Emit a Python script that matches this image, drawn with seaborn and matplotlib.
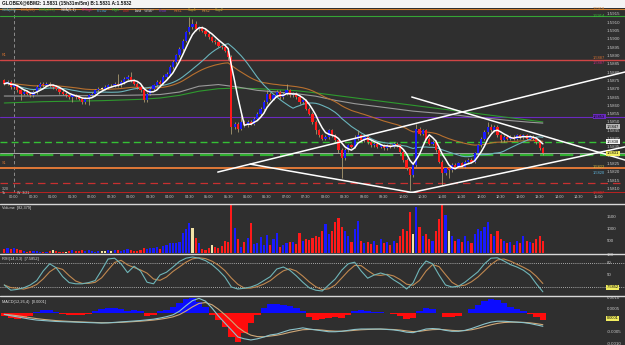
#!/usr/bin/env python3
"""6BM2 5-minute chart: candles + overlays, volume, stochastic and MACD panels."""

import matplotlib
matplotlib.use("Agg")
import matplotlib.pyplot as plt
import matplotlib.transforms as mtransforms
from matplotlib.lines import Line2D
from matplotlib.patches import Rectangle
import numpy as np
import pandas as pd
import seaborn as sns

# ---------------------------------------------------------------- data
HEADER = "GLOBEX@6BM2: 1.5831 (15h31m/5m) B:1.5831 A:1.5832"
LEGEND_NAMES = ["SMA(20)", "EMA(50)", "EMA(200)", "SMA(5,1)", "PrHigh", "PrLow", "High",
                "Low", "Last", "VWAP", "Pivot", "Res1", "Sup1", "Res2", "Sup2"]

# 5-minute bars, prices in pips above 1.5800, first bar at 23:45 (-15 min)
BAR_START_MIN = -15
BAR_MIN = 5
FIRST_OPEN = 75
CLOSE_PIPS = [
    73, 74, 71, 72, 69, 67, 68, 67, 66, 68, 71, 73, 72, 73, 72, 71, 70, 68, 67, 66,
    65, 66, 65, 64, 62, 64, 66, 67, 69, 70, 70, 71, 72, 72, 73, 72, 74, 76, 77, 75,
    73, 71, 69, 63, 67, 70,
    72, 74, 73, 77, 79, 83, 86, 90, 94, 99, 104, 107, 109, 106, 107, 105, 103, 101,
    99, 98, 96, 95, 93, 89,
    47, 49, 46, 50, 48, 50, 49, 52, 55, 58, 62, 67, 64, 66, 68, 65, 67, 69, 66, 67,
    65, 62, 63, 58, 55, 50, 45, 42, 40, 41, 45,
    42, 39, 33, 28, 33, 36, 35, 40, 42, 39, 41, 38, 36, 37, 35, 36, 34, 36, 35, 37,
    36, 32, 27, 22, 18, 24, 46, 43, 45, 40,
    37, 38, 33, 26, 19, 22, 21, 24, 23, 25, 23, 26, 27, 26, 31, 36, 40, 44, 47, 45,
    47, 42, 39, 41, 40, 41, 40, 42, 41, 42, 40, 41, 40, 38, 34, 31,
]
UP_WICK = [
    1, 1, 1, 1, 1, 1, 1, 1, 1, 1,  1, 1, 1, 1, 1, 1, 1, 1, 1, 1,
    1, 1, 1, 1, 1, 1, 1, 1, 1, 1,  1, 1, 1, 1, 1, 6, 1, 1, 1, 3,
    1, 1, 1, 1, 1, 1, 1, 1, 1, 1,  1, 1, 1, 1, 1, 1, 1, 6, 3, 2,
    1, 1, 1, 1, 1, 1, 1, 1, 1, 1,  1, 1, 1, 5, 1, 1, 1, 1, 1, 1,
    1, 2, 1, 1, 1, 1, 1, 4, 1, 1,  1, 1, 1, 1, 1, 1, 1, 1, 1, 1,
    1, 1, 1, 1, 1, 1, 1, 1, 2, 3,  1, 1, 1, 1, 1, 1, 1, 1, 1, 1,
    1, 1, 1, 1, 1, 1, 1, 3, 1, 1,  1, 1, 1, 1, 1, 1, 1, 1, 1, 1,
    1, 1, 1, 1, 1, 1, 1, 1, 1, 3,  2, 1, 1, 1, 1, 1, 1, 1, 1, 1,
    1, 1, 1, 1, 1, 1, 1,
]
DN_WICK = [
    1, 1, 1, 1, 1, 4, 1, 1, 1, 1,  1, 1, 1, 1, 1, 1, 1, 1, 1, 1,
    1, 3, 1, 1, 1, 1, 4, 1, 1, 1,  1, 1, 1, 1, 1, 1, 1, 1, 1, 1,
    1, 1, 1, 1, 1, 1, 1, 1, 1, 1,  1, 1, 1, 1, 1, 1, 1, 1, 1, 1,
    1, 1, 1, 1, 1, 1, 1, 1, 1, 2,  4, 1, 2, 1, 1, 1, 1, 1, 1, 1,
    1, 1, 1, 1, 1, 1, 1, 1, 1, 1,  1, 1, 1, 1, 1, 1, 2, 1, 1, 1,
    1, 1, 1, 2, 12, 1, 1, 1, 1, 1,  1, 1, 1, 1, 1, 1, 1, 1, 1, 1,
    1, 1, 1, 1, 1, 9, 1, 1, 1, 1,  1, 1, 1, 1, 1, 7, 1, 5, 1, 1,
    1, 1, 1, 1, 1, 1, 1, 1, 1, 1,  1, 1, 1, 1, 1, 1, 1, 1, 1, 1,
    1, 1, 1, 1, 1, 1, 1,
]
VOLUME = [
    180, 220, 160, 200, 150, 120, 90, 60, 80, 100, 70, 50, 40, 60, 90, 110, 70, 60, 50, 40,
    80, 120, 70, 100, 130, 90, 110, 80, 60, 100, 90, 70, 120, 100, 140, 110, 90, 130, 150, 120,
    100, 90, 140, 200, 160, 190,
    200, 250, 180, 300, 350, 420, 400, 430, 450, 830, 1000, 1250, 1040, 620, 420, 170, 130, 200,
    330, 250, 200, 300, 500, 460,
    2000, 1040, 580, 250, 450, 620, 1250, 380, 420, 660, 330, 750, 330, 580, 830, 250, 330, 420,
    460, 450, 380, 830, 500, 580, 540, 620, 700, 660, 900, 1200, 800,
    900, 1300, 1450, 1100, 900, 700, 450, 1000, 1350, 500, 400, 450, 380, 500, 350, 600, 400, 450,
    350, 500, 400, 700, 1000, 900, 1700, 800, 1900, 1100, 700, 800,
    600, 500, 900, 1400, 2000, 1600, 900, 700, 500, 600, 450, 700, 500, 400, 800, 1000, 900, 1100,
    1300, 800, 700, 900, 600, 500, 400, 450, 350, 500, 400, 700, 500, 450, 400, 600, 700, 500,
]
NEUTRAL_BARS = [15, 19, 31, 58, 64, 126, 137]

# slow overlays read every 30 minutes (pips above 1.5800)
SLOW_T = [-15, 15, 45, 75, 105, 135, 165, 195, 225, 255, 285, 315, 345, 375, 405, 435, 465,
          495, 525, 555, 585, 615, 645, 675, 705, 735, 765, 795, 815]
EMA200_PIPS = [61.4, 61.8, 62.2, 62.4, 62.6, 62.8, 63.2, 63.6, 64.4, 66, 68.5, 70, 70.4, 70,
               69.4, 68.8, 67.5, 66, 64.5, 63, 61.5, 60, 58.5, 57, 55.5, 54, 52.5, 51, 50]
VWAP_PIPS = [65.6, 65.6, 65.7, 65.8, 65.8, 65.9, 66, 66.2, 66.5, 68, 71.5, 72.5, 71, 69, 68,
             67, 65.5, 63, 61, 59.5, 58, 56.5, 55.5, 54.5, 53, 52, 50.8, 49.8, 49.3]

# oscillators read every 10 minutes
OSC_START = -15
OSC_STEP = 10
STOCH_K = [25, 12, 14, 18, 25, 36, 60, 78, 68, 46, 31, 28, 28, 31, 36, 62, 90, 92, 78, 56,
           72, 60, 32, 28, 50, 57, 70, 84, 92, 95, 92, 86, 76, 62, 45, 20, 15, 17, 20, 26,
           36, 46, 65, 70, 62, 48, 32, 18, 12, 10, 25, 40, 62, 78, 82, 60, 42, 50, 55, 50,
           38, 28, 15, 30, 65, 85, 78, 50, 25, 20, 22, 32, 45, 58, 78, 92, 93, 85, 76, 70,
           62, 50, 28, 8]
# MACD values in units of 0.0001
MACD_LINE = [2.6, 2.0, 1.5, 1.0, 0.5, 0.1, -0.1, -0.3, -0.5, -0.6, -0.7, -0.8, -0.9, -1.0,
             -1.1, -1.2, -1.1, -0.9, -0.7, -0.5, -0.3, -0.1, 0.2, 0.5, 1.0, 1.6, 2.4, 4.0,
             6.4, 8.6, 9.6, 8.4, 5.4, 1.9, -1.2, -4.2, -7.3, -8.1, -8.6, -8.1, -7.3, -6.4,
             -6.0, -5.1, -4.2, -3.8, -3.3, -3.8, -4.2, -4.6, -5.0, -5.0, -4.8, -4.4, -4.0,
             -3.8, -3.8, -3.8, -3.8, -4.0, -4.2, -4.6, -5.2, -5.4, -4.6, -3.8, -3.6, -3.8,
             -4.4, -4.8, -4.8, -4.4, -3.6, -2.6, -1.6, -0.8, -0.4, -0.4, -0.6, -0.8, -1.0,
             -1.4, -2.0, -2.6]
MACD_HIST = [-1.3, -2.1, -2.5, -2.1, -1.3, 0.4, 1.3, 1.3, 0.4, -0.4, -0.8, -0.8, -0.8, -0.4,
             0.8, 1.7, 2.1, 2.1, 1.7, 0.8, 1.3, 0.8, -1.3, -0.8, 0.8, 1.3, 2.5, 4.2, 5.8, 6.3,
             4.6, 2.5, -0.8, -2.9, -5.8, -10.0, -12.1, -8.3, -4.2, -0.8, 2.1, 3.8, 3.8, 3.3,
             2.9, 2.1, 0.8, -1.7, -2.9, -2.5, -2.1, -1.7, -2.1, -0.8, 0.8, 1.3, 0.8, 0.4, 0.4,
             0.0, -0.4, -1.3, -2.5, -2.1, 0.8, 2.1, 1.7, 0.0, -1.7, -1.7, -1.3, 0.0, 1.7, 3.3,
             5.0, 5.8, 5.4, 4.2, 2.5, 1.7, 0.8, -0.4, -1.7, -2.9]

# horizontal levels
LEVEL_PRICES = [1.5918, 1.5914, 1.5887, 1.5853, 1.5838, 1.5831, 1.5830, 1.5822, 1.5813, 1.5807]

# hand-drawn trend lines: (minutes, pips) end points
TREND_T0 = [314, 613, 364, 595]
TREND_P0 = [19.8, 65.0, 24.6, 6.0]
TREND_T1 = [942, 942, 707, 942]
TREND_P1 = [80.1, 27.0, 1.1, 35.0]

# ---------------------------------------------------------------- style
BG = "#2f2f2f"
TXT = "#c8c8c8"
UP, DOWN, DOJI = "#1a1aff", "#ff1a1a", "#f3e3a6"
WICK = "#b3a276"
LEGEND_X = [2, 21, 39, 61, 82, 97, 112, 123, 135, 144, 159, 174, 188, 202, 215]
LEGEND_COLORS = ["#5fb0b8", "#d07a30", "#2ea82e", "#e8e8e8", "#c8287e", "#4aa8d8", "#30c830",
                 "#d02828", "#f0f0f0", "#b0b0b0", "#7a3ad0", "#d87030", "#c8b030", "#d89040",
                 "#b8b840"]
LEVEL_COLORS = ["#d08030", "#35a535", "#d04545", "#6a2ac0", "#35c035", "#a8a8a8", "#30b030",
                "#e07838", "#c83030", "#d02020"]
LEVEL_STYLES = ["-", "-", "-", "-", (0, (5, 3)), "-", (0, (6, 3)), "-", (0, (6, 4)), "-"]
LEVEL_WIDTHS = [0.8, 0.8, 1.0, 0.8, 1.0, 0.7, 1.6, 1.4, 0.9, 1.2]
W, H = 625, 345
XMIN, XMAX = -21.6, 941.6
SMALL = 3.2

sns.set_theme(style="dark")
plt.rcParams["font.family"] = ["Liberation Sans", "DejaVu Sans"]


def pip(p):
    return 1.58 + np.asarray(p, dtype=float) * 1e-4


def hhmm(m):
    return f"{m // 60:02d}:{m % 60:02d}"


def panel(fig, top_px, bottom_px):
    ax = fig.add_axes([0, 1 - bottom_px / H, 1, (bottom_px - top_px) / H])
    ax.set_facecolor(BG)
    ax.grid(False)
    for s in ax.spines.values():
        s.set_visible(False)
    ax.set_xlim(XMIN, XMAX)
    return ax


def right_ticks(ax, ticks, fmt):
    ax.yaxis.tick_right()
    ax.set_yticks(ticks)
    ax.set_yticklabels([fmt(v) for v in ticks])
    ax.tick_params(axis="y", length=0, pad=-13, labelsize=SMALL, labelcolor=TXT)
    ax.set_xlabel("")
    ax.set_ylabel("")


def main():
    n = len(CLOSE_PIPS)
    assert len(UP_WICK) == n and len(DN_WICK) == n and len(VOLUME) == n
    t = BAR_START_MIN + BAR_MIN * np.arange(n)
    close = np.array(CLOSE_PIPS, dtype=float)
    opn = np.r_[FIRST_OPEN, close[:-1]]
    hi = np.maximum(opn, close) + np.array(UP_WICK)
    lo = np.minimum(opn, close) - np.array(DN_WICK)
    cols = np.where(close > opn, UP, np.where(close < opn, DOWN, DOJI))
    vcols = cols.copy()
    vcols[NEUTRAL_BARS] = DOJI

    fig = plt.figure(figsize=(W / 100, H / 100), dpi=100, facecolor=BG)
    fig.add_artist(Rectangle((0, 1 - 8 / H), 1, 8 / H, transform=fig.transFigure,
                             facecolor="#f4f4f4", edgecolor="none", zorder=0))
    fig.text(2 / W, 1 - 4 / H, HEADER, fontsize=3.4, weight="bold", color="#111111", va="center")
    for x, name, c in zip(LEGEND_X, LEGEND_NAMES, LEGEND_COLORS):
        fig.text(x / W, 1 - 10.5 / H, name, fontsize=2.7, color=c, va="center", zorder=10)

    # ---- price panel
    ax = panel(fig, 9, 193)
    ax.set_ylim(1.58072, 1.59180)
    trans = mtransforms.blended_transform_factory(ax.transAxes, ax.transData)
    ax.axvline(0, color="#9a9a9a", lw=0.6, ls=(0, (4, 3)), zorder=1)
    for p, c, ls, lw in zip(LEVEL_PRICES, LEVEL_COLORS, LEVEL_STYLES, LEVEL_WIDTHS):
        ax.axhline(p, color=c, ls=ls, lw=lw, zorder=1)

    slow_t = np.array(SLOW_T)
    sns.lineplot(x=slow_t, y=pip(EMA200_PIPS), ax=ax, color="#2e9a2e", lw=0.8, zorder=2)
    sns.lineplot(x=slow_t, y=pip(VWAP_PIPS), ax=ax, color="#9a9a9a", lw=0.8, zorder=2)
    cs = pd.Series(close)
    sns.lineplot(x=t, y=pip(cs.ewm(span=50, adjust=False).mean()), ax=ax,
                 color="#b8702e", lw=0.8, zorder=2)
    sns.lineplot(x=t, y=pip(cs.rolling(20, min_periods=1).mean()), ax=ax,
                 color="#6ab4bc", lw=0.8, zorder=2)

    ax.vlines(t, pip(lo), pip(hi), color=WICK, lw=0.55, zorder=3)
    body = np.maximum(np.abs(close - opn), 0.3) * 1e-4
    ax.bar(t, body, bottom=pip(np.minimum(opn, close)), width=3.4, color=cols,
           linewidth=0, zorder=4)
    sns.lineplot(x=t, y=pip(cs.rolling(5, min_periods=1).mean()), ax=ax,
                 color="white", lw=1.1, zorder=5)

    for t0, p0, t1, p1 in zip(TREND_T0, TREND_P0, TREND_T1, TREND_P1):
        ax.plot([t0, t1], pip([p0, p1]), color="white", lw=1.1, zorder=6)

    ax.set_xticks(range(0, 901, 30))
    ax.set_xticklabels([hhmm(m) for m in range(0, 901, 30)])
    ax.tick_params(axis="x", length=0, pad=1.5, labelsize=2.7, labelcolor=TXT)
    right_ticks(ax, np.round(np.arange(1.5810, 1.59151, 0.0005), 4), lambda v: f"{v:.4f}")

    # level tags
    tags = [(0.949, 1.5918, "1.5918", "#d08030", None),
            (0.949, 1.5914, "1.5914", "#35c035", None),
            (0.949, 1.58882, "1.5887", "#d87030", None),
            (0.949, 1.58856, "1.5887", "#c8287e", None),
            (0.949, 1.5853, "1.5853", "black", "#6a2ac0"),
            (0.971, 1.5847, "1.5847", "black", "#b8b8b8"),
            (0.971, 1.5838, "1.5838", "black", "#f4f4f4"),
            (0.971, 1.5831, "1.5831", "black", "#f2ee60"),
            (0.949, 1.58228, "1.5822", "#d8c040", None),
            (0.949, 1.58192, "1.5820", "#60b8e0", None),
            (0.949, 1.58075, "1.5807", "#e03030", None)]
    for x, y, s, c, box in tags:
        kw = dict(fontsize=SMALL - 0.3, color=c, va="center", ha="left", transform=trans,
                  zorder=8, clip_on=False)
        if box:
            kw["bbox"] = dict(boxstyle="square,pad=0.12", fc=box, ec="none")
        ax.text(x, y, s, **kw)
    ax.text(0.003, 1.5889, "R1", fontsize=2.7, color="#d07030", transform=trans, va="bottom")
    ax.text(0.003, 1.5824, "S1", fontsize=2.7, color="#d07030", transform=trans, va="bottom")
    fig.text(2 / W, 1 - 188.5 / H, "3/20", fontsize=2.5, color=TXT, va="center")
    fig.text(2 / W, 1 - 193.5 / H, "Tu", fontsize=2.5, color=TXT, va="center")
    fig.text(17 / W, 1 - 193.5 / H, "W  3/21", fontsize=2.5, color=TXT, va="center")

    # ---- volume
    axv = panel(fig, 205, 253)
    axv.bar(t, VOLUME, width=3.3, color=vcols, linewidth=0)
    axv.set_ylim(0, 2000)
    axv.set_xticks([])
    right_ticks(axv, [500, 1000, 1500], lambda v: f"{v:d}")
    axv.text(0.004, 0.93, "Volume  [82,379]", transform=axv.transAxes, fontsize=2.8,
             color="#e0e0e0", va="center")

    # ---- stochastic
    osc_t = OSC_START + OSC_STEP * np.arange(len(STOCH_K))
    axs = panel(fig, 255, 295)
    axs.set_ylim(0, 100)
    for lvl in (80, 20):
        axs.axhline(lvl, color="#d0d0d0", lw=0.6, ls=(0, (1, 1.5)))
    k = pd.Series(STOCH_K, dtype=float)
    sns.lineplot(x=osc_t, y=k.rolling(3, min_periods=1).mean(), ax=axs, color="#c08850", lw=0.8)
    sns.lineplot(x=osc_t, y=k, ax=axs, color="#6fb5b8", lw=0.8)
    axs.set_xticks([])
    right_ticks(axs, [20, 50, 80, 100], lambda v: f"{v:d}")
    axs.text(0.004, 0.9, "RSI(14,3,3)  [7.5852]", transform=axs.transAxes, fontsize=2.8,
             color="#e0e0e0", va="center")
    axs.text(0.971, 19, "7.5852", fontsize=SMALL - 0.3, color="black", va="center",
             transform=mtransforms.blended_transform_factory(axs.transAxes, axs.transData),
             bbox=dict(boxstyle="square,pad=0.12", fc="#f2ee60", ec="none"), zorder=8)

    # ---- MACD
    axm = panel(fig, 297, 345)
    axm.set_ylim(-13.3e-4, 6.7e-4)
    hist = np.array(MACD_HIST) * 1e-4
    axm.bar(osc_t, hist, width=OSC_STEP, color=np.where(hist >= 0, "#0c0cff", "#ff0c0c"),
            linewidth=0)
    axm.set_xticks([])
    axm.set_yticks([])
    axm.set_ylabel("")
    axl = axm.twinx()
    axl.set_xlim(XMIN, XMAX)
    for s in axl.spines.values():
        s.set_visible(False)
    axl.grid(False)
    axl.set_ylim(-0.00108, 0.00102)
    macd = pd.Series(MACD_LINE) * 1e-4
    sns.lineplot(x=osc_t, y=macd.ewm(span=4, adjust=False).mean(), ax=axl, color="#d0a878", lw=0.8)
    sns.lineplot(x=osc_t, y=macd, ax=axl, color="#8cc4cc", lw=0.8)
    axl.set_xticks([])
    right_ticks(axl, [0.0010, 0.0005, -0.0005, -0.0010], lambda v: f"{v:.4f}")
    axl.text(0.004, 0.9, "MACD(12,26,4)  [0.0001]", transform=axl.transAxes, fontsize=2.8,
             color="#e0e0e0", va="center")
    axl.text(0.971, 0.0001, "0.0001", fontsize=SMALL - 0.3, color="black", va="center",
             transform=mtransforms.blended_transform_factory(axl.transAxes, axl.transData),
             bbox=dict(boxstyle="square,pad=0.12", fc="#f2ee60", ec="none"), zorder=8)

    for ypx in (204, 254, 296):
        fig.add_artist(Line2D([0, 1], [1 - ypx / H] * 2, transform=fig.transFigure,
                              color="#d8d8d8", lw=1.0))

    fig.savefig("out.png", dpi=100, facecolor=BG)
    plt.close(fig)


if __name__ == "__main__":
    main()
